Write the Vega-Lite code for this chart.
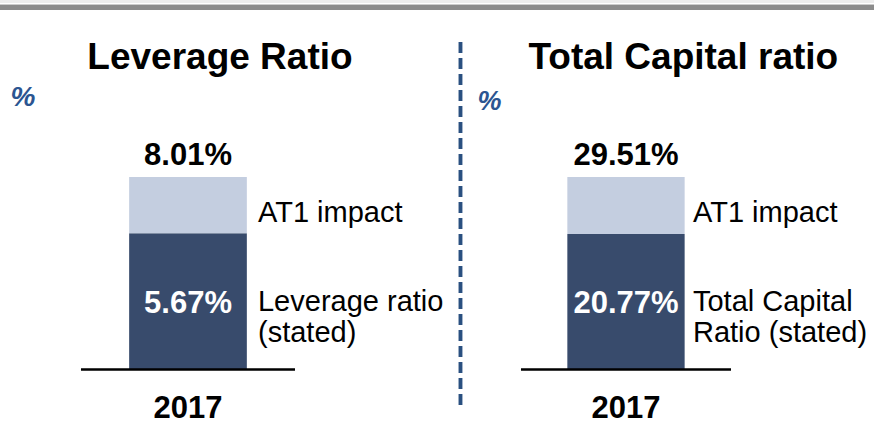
{
  "$schema": "https://vega.github.io/schema/vega-lite/v6.json",
  "background": "white",
  "padding": 0,
  "spacing": 0,
  "bounds": "flush",
  "config": {
    "view": {"stroke": null},
    "font": "Liberation Sans",
    "text": {"font": "Liberation Sans"},
    "axis": {"disable": true}
  },
  "hconcat": [
    {
      "width": 437,
      "height": 426,
      "data": {"values": [
        {"year": "2017", "part": "stated", "name": "Leverage ratio\n(stated)", "value": 0.0567},
        {"year": "2017", "part": "AT1", "name": "AT1 impact", "value": 0.0234}
      ]},
      "layer": [
        {
          "mark": {"type": "bar", "width": {"band": 0.55}},
          "encoding": {
            "x": {"field": "year", "type": "nominal", "axis": null,
                  "scale": {"type": "band", "domain": ["2017"], "paddingInner": 0, "paddingOuter": 0.521, "align": 0.3632}},
            "y": {"field": "value", "type": "quantitative", "stack": "zero", "axis": null,
                  "scale": {"domain": [-0.02351, 0.15375], "nice": false, "zero": false}},
            "color": {"field": "part", "type": "nominal", "legend": null,
                      "scale": {"domain": ["stated", "AT1"], "range": ["#384B6C", "#C4CEE0"]}},
            "order": {"field": "part", "sort": "descending"}
          }
        },
        {
          "mark": {"type": "rect", "fill": "#EDEDED"},
          "encoding": {"y": {"datum": 0.15375, "axis": null}, "y2": {"datum": 0.152502}}
        },
        {
          "mark": {"type": "rect", "fill": "#8C8C8C"},
          "encoding": {"y": {"datum": 0.151794, "axis": null}, "y2": {"datum": 0.149589}}
        },
        {
          "mark": {"type": "bar", "fill": "black", "stroke": "black", "strokeWidth": 2},
          "encoding": {
            "x": {"field": "year", "type": "nominal", "axis": null},
            "y": {"datum": 0, "axis": null},
            "y2": {"datum": 0}
          }
        },
        {
          "mark": {"type": "text", "fontSize": 31, "fontWeight": "bold", "baseline": "alphabetic", "dy": -12, "color": "black"},
          "encoding": {
            "x": {"field": "year", "type": "nominal", "axis": null},
            "y": {"aggregate": "sum", "field": "value", "type": "quantitative", "axis": null},
            "text": {"aggregate": "sum", "field": "value", "type": "quantitative", "format": ".2%"}
          }
        },
        {
          "transform": [{"filter": "datum.part === 'stated'"}],
          "mark": {"type": "text", "fontSize": 31, "fontWeight": "bold", "baseline": "alphabetic", "dy": 80, "color": "white"},
          "encoding": {
            "x": {"field": "year", "type": "nominal", "axis": null},
            "y": {"field": "value", "type": "quantitative", "axis": null},
            "text": {"field": "value", "type": "quantitative", "format": ".2%"}
          }
        },
        {
          "transform": [{"filter": "datum.part === 'AT1'"}],
          "mark": {"type": "text", "fontSize": 29, "align": "left", "baseline": "alphabetic", "dx": 70, "dy": -147.8, "color": "black"},
          "encoding": {
            "x": {"field": "year", "type": "nominal", "axis": null},
            "y": {"datum": 0, "axis": null},
            "text": {"field": "name", "type": "nominal"}
          }
        },
        {
          "transform": [{"filter": "datum.part === 'stated'"}],
          "mark": {"type": "text", "fontSize": 29, "align": "left", "baseline": "alphabetic", "lineBreak": "\n", "lineHeight": 31, "dx": 70, "dy": -58, "color": "black"},
          "encoding": {
            "x": {"field": "year", "type": "nominal", "axis": null},
            "y": {"datum": 0, "axis": null},
            "text": {"field": "name", "type": "nominal"}
          }
        },
        {
          "transform": [{"filter": "datum.part === 'stated'"}],
          "mark": {"type": "text", "fontSize": 31, "fontWeight": "bold", "baseline": "alphabetic", "dy": 48.5, "color": "black"},
          "encoding": {
            "x": {"field": "year", "type": "nominal", "axis": null},
            "y": {"datum": 0, "axis": null},
            "text": {"field": "year", "type": "nominal"}
          }
        },
        {
          "transform": [{"filter": "datum.part === 'stated'"}],
          "mark": {"type": "text", "fontSize": 37, "fontWeight": "bold", "baseline": "alphabetic", "dx": 32, "dy": -300.5, "color": "black"},
          "encoding": {
            "x": {"field": "year", "type": "nominal", "axis": null},
            "y": {"datum": 0, "axis": null},
            "text": {"value": "Leverage Ratio"}
          }
        },
        {
          "transform": [{"filter": "datum.part === 'stated'"}],
          "mark": {"type": "text", "fontSize": 28, "fontWeight": "bold", "fontStyle": "italic", "baseline": "alphabetic", "dx": -165, "dy": -263.5, "color": "#2B5591"},
          "encoding": {
            "x": {"field": "year", "type": "nominal", "axis": null},
            "y": {"datum": 0, "axis": null},
            "text": {"value": "%"}
          }
        }
      ]
    },
    {
      "width": 437,
      "height": 426,
      "data": {"values": [
        {"year": "2017", "part": "stated", "name": "Total Capital\nRatio (stated)", "value": 0.2077},
        {"year": "2017", "part": "AT1", "name": "AT1 impact", "value": 0.0874}
      ]},
      "layer": [
        {
          "mark": {"type": "bar", "width": {"band": 0.5586}},
          "encoding": {
            "x": {"field": "year", "type": "nominal", "axis": null,
                  "scale": {"type": "band", "domain": ["2017"], "paddingInner": 0, "paddingOuter": 0.5405, "align": 0.37}},
            "y": {"field": "value", "type": "quantitative", "stack": "zero", "axis": null,
                  "scale": {"domain": [-0.086614, 0.56644], "nice": false, "zero": false}},
            "color": {"field": "part", "type": "nominal", "legend": null,
                      "scale": {"domain": ["stated", "AT1"], "range": ["#384B6C", "#C4CEE0"]}},
            "order": {"field": "part", "sort": "descending"}
          }
        },
        {
          "mark": {"type": "rect", "fill": "#EDEDED"},
          "encoding": {"y": {"datum": 0.56644, "axis": null}, "y2": {"datum": 0.561841}}
        },
        {
          "mark": {"type": "rect", "fill": "#8C8C8C"},
          "encoding": {"y": {"datum": 0.559235, "axis": null}, "y2": {"datum": 0.55111}}
        },
        {
          "mark": {"type": "rule", "stroke": "#2A5080", "strokeWidth": 3.5, "strokeDash": [11, 5], "xOffset": -60.5},
          "encoding": {
            "x": {"field": "year", "type": "nominal", "bandPosition": 0, "axis": null},
            "y": {"datum": 0.50207, "axis": null},
            "y2": {"datum": -0.05596}
          }
        },
        {
          "mark": {"type": "bar", "fill": "black", "stroke": "black", "strokeWidth": 2},
          "encoding": {
            "x": {"field": "year", "type": "nominal", "axis": null},
            "y": {"datum": 0, "axis": null},
            "y2": {"datum": 0}
          }
        },
        {
          "mark": {"type": "text", "fontSize": 31, "fontWeight": "bold", "baseline": "alphabetic", "dy": -12, "color": "black"},
          "encoding": {
            "x": {"field": "year", "type": "nominal", "axis": null},
            "y": {"aggregate": "sum", "field": "value", "type": "quantitative", "axis": null},
            "text": {"aggregate": "sum", "field": "value", "type": "quantitative", "format": ".2%"}
          }
        },
        {
          "transform": [{"filter": "datum.part === 'stated'"}],
          "mark": {"type": "text", "fontSize": 31, "fontWeight": "bold", "baseline": "alphabetic", "dy": 79.3, "color": "white"},
          "encoding": {
            "x": {"field": "year", "type": "nominal", "axis": null},
            "y": {"field": "value", "type": "quantitative", "axis": null},
            "text": {"field": "value", "type": "quantitative", "format": ".2%"}
          }
        },
        {
          "transform": [{"filter": "datum.part === 'AT1'"}],
          "mark": {"type": "text", "fontSize": 29, "align": "left", "baseline": "alphabetic", "dx": 67, "dy": -147.8, "color": "black"},
          "encoding": {
            "x": {"field": "year", "type": "nominal", "axis": null},
            "y": {"datum": 0, "axis": null},
            "text": {"field": "name", "type": "nominal"}
          }
        },
        {
          "transform": [{"filter": "datum.part === 'stated'"}],
          "mark": {"type": "text", "fontSize": 29, "align": "left", "baseline": "alphabetic", "lineBreak": "\n", "lineHeight": 31, "dx": 67, "dy": -58, "color": "black"},
          "encoding": {
            "x": {"field": "year", "type": "nominal", "axis": null},
            "y": {"datum": 0, "axis": null},
            "text": {"field": "name", "type": "nominal"}
          }
        },
        {
          "transform": [{"filter": "datum.part === 'stated'"}],
          "mark": {"type": "text", "fontSize": 31, "fontWeight": "bold", "baseline": "alphabetic", "dy": 48.5, "color": "black"},
          "encoding": {
            "x": {"field": "year", "type": "nominal", "axis": null},
            "y": {"datum": 0, "axis": null},
            "text": {"field": "year", "type": "nominal"}
          }
        },
        {
          "transform": [{"filter": "datum.part === 'stated'"}],
          "mark": {"type": "text", "fontSize": 37, "fontWeight": "bold", "baseline": "alphabetic", "dx": 57.3, "dy": -300.5, "color": "black"},
          "encoding": {
            "x": {"field": "year", "type": "nominal", "axis": null},
            "y": {"datum": 0, "axis": null},
            "text": {"value": "Total Capital ratio"}
          }
        },
        {
          "transform": [{"filter": "datum.part === 'stated'"}],
          "mark": {"type": "text", "fontSize": 27, "fontWeight": "bold", "fontStyle": "italic", "baseline": "alphabetic", "dx": -136.5, "dy": -259.5, "color": "#2B5591"},
          "encoding": {
            "x": {"field": "year", "type": "nominal", "axis": null},
            "y": {"datum": 0, "axis": null},
            "text": {"value": "%"}
          }
        }
      ]
    }
  ]
}
